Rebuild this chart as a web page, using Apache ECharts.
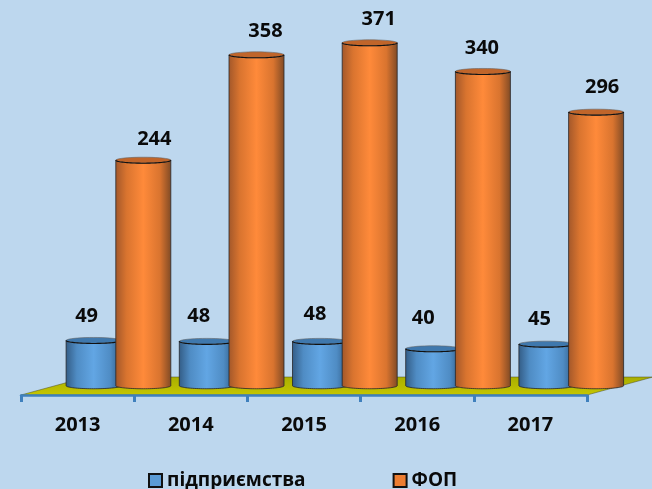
<!DOCTYPE html>
<html>
<head>
<meta charset="utf-8">
<style>html,body{margin:0;padding:0;background:#bdd7ee}#chart{width:652px;height:489px}</style>
<script src="https://cdn.jsdelivr.net/npm/echarts@6/dist/echarts.min.js"></script>
</head>
<body>
<div id="chart"></div>
<script>
const years = ['2013', '2014', '2015', '2016', '2017'];
const firms = [49, 48, 48, 40, 45];
const sole = [244, 358, 371, 340, 296];
const firmsName = 'підприємства';
const soleName = 'ФОП';

// label nudges, px from the top of each cylinder
const firmsLabelNudge = [[-7, -24], [-8, -25], [-5, -27], [-10, -30], [-7, -25]];
const soleLabelNudge = [[11, -21], [9, -24], [9, -24], [-1, -23], [6, -25]];

const FONT = '"Open Sans", Lato, sans-serif';
const BAR_W = 55;
const RY = 3;

const ellipse = (cx, cy, rx, ry, from, to) => {
    let pts = [];
    for (let i = 0; i <= 40; i++) {
        let a = from + (to - from) * i / 40;
        pts.push([cx + rx * Math.cos(a), cy + ry * Math.sin(a)]);
    }
    return pts;
};

const sideFill = (left, mid, right) => ({
    type: 'linear', x: 0, y: 0, x2: 1, y2: 0,
    colorStops: [
        { offset: 0, color: left },
        { offset: 0.2, color: mid[0] },
        { offset: 0.5, color: mid[1] },
        { offset: 0.8, color: mid[0] },
        { offset: 1, color: right }
    ]
});

const cylinder = (shift, fill, cap, nudges) => (params, api) => {
    let i = api.value(0);
    let v = api.value(1);
    let center = api.coord([i, 0])[0] + shift;
    let base = api.coord([i, 0])[1];
    let top = api.coord([i, v])[1];
    let r = BAR_W / 2;
    let bottom = ellipse(center, base, r, RY, Math.PI, 0);
    let body = [[center - r, top]].concat(bottom, [[center + r, top]]);
    return {
        type: 'group',
        children: [
            {
                type: 'polygon',
                shape: { points: body },
                style: { fill: fill, stroke: '#26262a', lineWidth: 0.8 }
            },
            {
                type: 'polygon',
                shape: { points: ellipse(center, top, r, RY, 0, Math.PI * 2) },
                style: { fill: cap, stroke: '#666', lineWidth: 0.6 }
            },
            {
                type: 'polyline',
                shape: { points: ellipse(center, top, r, RY, 0, Math.PI) },
                style: { fill: null, stroke: '#111', lineWidth: 1.1 }
            },
            {
                type: 'text',
                x: center + nudges[i][0],
                y: top + nudges[i][1],
                style: {
                    text: String(v), font: 'bold 20px ' + FONT, fill: '#0a0a0a',
                    align: 'center', verticalAlign: 'middle'
                }
            }
        ]
    };
};

const renderFloor = (params, api) => {
    let g = params.coordSys;
    let y = g.y + g.height;
    return {
        type: 'polygon',
        shape: {
            points: [[g.x, y], [g.x + g.width, y], [g.x + g.width + 66, y - 18], [g.x + 66, y - 18]]
        },
        style: {
            fill: {
                type: 'linear', x: 0, y: 0, x2: 0, y2: 1,
                colorStops: [{ offset: 0, color: '#a8ae00' }, { offset: 1, color: '#c6c600' }]
            },
            stroke: '#4a4a20',
            lineWidth: 0.5
        }
    };
};

const chart = echarts.init(document.getElementById('chart'));
chart.setOption({
    backgroundColor: '#bdd7ee',
    animation: false,
    grid: { left: 21, right: 65, top: 16, bottom: 94 },
    legend: {
        left: 143,
        top: 466,
        itemWidth: 13,
        itemHeight: 13,
        itemGap: 87,
        textStyle: { fontWeight: 'bold', fontSize: 19, fontFamily: FONT, color: '#0a0a0a' },
        data: [
            { name: firmsName, icon: 'rect', itemStyle: { color: '#5b9bd5', borderColor: '#111', borderWidth: 2 } },
            { name: soleName, icon: 'rect', itemStyle: { color: '#ed7d31', borderColor: '#111', borderWidth: 2 } }
        ]
    },
    xAxis: {
        type: 'category',
        data: years,
        z: 5,
        axisLine: { show: true, onZero: false, lineStyle: { color: '#3f80bd', width: 2.5 } },
        axisTick: { show: true, length: 7, lineStyle: { color: '#3f80bd', width: 3 } },
        axisLabel: { margin: 20, color: '#0a0a0a', fontFamily: FONT, fontWeight: 'bold', fontSize: 20 }
    },
    yAxis: { type: 'value', min: -10, max: 400, show: false },
    series: [
        {
            name: 'floor',
            type: 'custom',
            silent: true,
            renderItem: renderFloor,
            data: [[0, 0]],
            z: 1
        },
        {
            name: firmsName,
            type: 'custom',
            renderItem: cylinder(16, sideFill('#335c85', ['#4f8cc4', '#62a6e4'], '#2f5a85'), '#3f78ad', firmsLabelNudge),
            data: firms.map((v, i) => [i, v]),
            itemStyle: { color: '#5b9bd5' },
            z: 2
        },
        {
            name: soleName,
            type: 'custom',
            renderItem: cylinder(65.7, sideFill('#a2572a', ['#d9742f', '#ff8a3a'], '#7f4a25'), '#c0652a', soleLabelNudge),
            data: sole.map((v, i) => [i, v]),
            itemStyle: { color: '#ed7d31' },
            z: 3
        }
    ]
});
</script>
</body>
</html>
